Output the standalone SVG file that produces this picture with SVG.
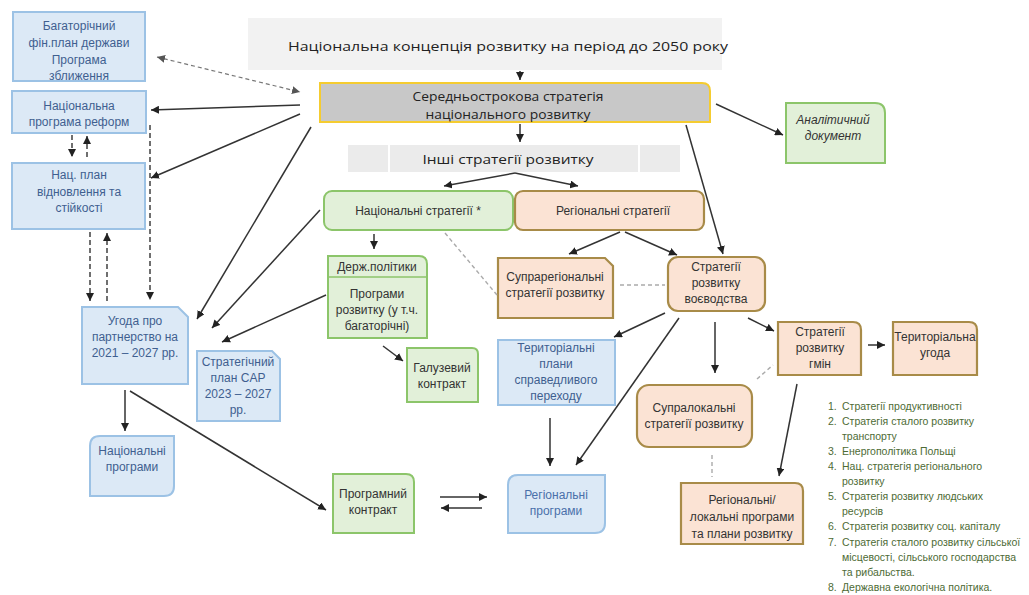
<svg xmlns="http://www.w3.org/2000/svg" width="1029" height="595" viewBox="0 0 1029 595">
<defs>
<marker id="ah" markerUnits="userSpaceOnUse" markerWidth="8" markerHeight="8" refX="8" refY="4" orient="auto-start-reverse"><path d="M0,0 L8,4 L0,8 z" fill="#222"/></marker>
<marker id="ahg" markerUnits="userSpaceOnUse" markerWidth="8" markerHeight="8" refX="8" refY="4" orient="auto-start-reverse"><path d="M0,0 L8,4 L0,8 z" fill="#555"/></marker>
<style>
text{font-family:"Liberation Sans",Arial,sans-serif;font-size:12px;fill:#333;text-anchor:middle}
.os{font-family:"Open Sans","Noto Sans",sans-serif;fill:#222}
.bl{fill:#dce9f6;stroke:#9cc2e5;stroke-width:2}
.gr{fill:#e2f0d9;stroke:#8cc56a;stroke-width:2}
.pe{fill:#fbe3d4;stroke:#a88b48;stroke-width:2.2}
.bt{fill:#3f5f90}
.ln{stroke:#333;stroke-width:1.5;fill:none;marker-end:url(#ah)}
.dl{stroke:#333;stroke-width:1.4;fill:none;stroke-dasharray:5,3;marker-end:url(#ah)}
.gd{stroke:#aaa;stroke-width:1.4;fill:none;stroke-dasharray:4,3}
.li text{text-anchor:start;font-size:10.5px;fill:#4d6b35}
</style>
</defs>
<rect width="1029" height="595" fill="#fff"/>

<g id="concept"><rect x="248" y="18" width="474" height="52" fill="#f2f2f2"/><text class="os" x="508" y="51" font-size="17.5" textLength="440" lengthAdjust="spacingAndGlyphs">Національна концепція розвитку на період до 2050 року</text></g>

<g id="mid"><path d="M320 83 H702 Q710 83 710 91 V122 H320 Z" fill="#c8c8c8" stroke="#f5cc30" stroke-width="2"/><text class="os" x="508" y="101" font-size="15" textLength="191" lengthAdjust="spacingAndGlyphs">Середньострокова стратегія</text><text class="os" x="508" y="119" font-size="15" textLength="165" lengthAdjust="spacingAndGlyphs">національного розвитку</text></g>

<g id="other"><rect x="348" y="145" width="40" height="27" fill="#ebebeb"/><rect x="390" y="145" width="248" height="27" fill="#ebebeb"/><rect x="640" y="145" width="40" height="27" fill="#ebebeb"/><text class="os" x="508" y="164" font-size="17" textLength="171" lengthAdjust="spacingAndGlyphs">Інші стратегії розвитку</text></g>

<g id="analytic"><path d="M786 103 H875 Q885 103 885 113 V163 H786 Z" class="gr"/><text x="833" y="124" font-style="italic">Аналітичний</text><text x="833" y="140" font-style="italic">документ</text></g>

<g id="natstr"><rect x="324" y="191" width="189" height="39" rx="8" class="gr"/><text x="418" y="215">Національні стратегії *</text></g>
<g id="regstr"><rect x="515" y="191" width="189" height="39" rx="8" class="pe"/><text x="613" y="215">Регіональні стратегії</text></g>

<g id="derzh"><path d="M328 256 H419 Q427 256 427 264 V338 H328 Z" class="gr"/><line x1="328" y1="277" x2="427" y2="277" stroke="#8cc56a" stroke-width="1.5"/><text x="377" y="271">Держ.політики</text><text x="377" y="298">Програми</text><text x="377" y="314">розвитку (у т.ч.</text><text x="377" y="330">багаторічні)</text></g>

<g id="galuz"><path d="M407 348 H472 Q478 348 478 354 V402 H407 Z" class="gr"/><text x="442" y="372">Галузевий</text><text x="442" y="388">контракт</text></g>

<g id="supra"><path d="M498 258 H605 L613 266 V318 H498 Z" class="pe"/><text x="555" y="281">Супрарегіональні</text><text x="555" y="297">стратегії розвитку</text></g>

<g id="voiv"><rect x="668" y="257" width="97" height="54" rx="10" class="pe"/><text x="716" y="271">Стратегії</text><text x="716" y="287">розвитку</text><text x="716" y="303">воєводства</text></g>

<g id="gmin"><path d="M778 322 H853 Q861 322 861 330 V375 H778 Z" class="pe"/><text x="820" y="336">Стратегії</text><text x="820" y="352">розвитку</text><text x="820" y="368">гмін</text></g>

<g id="terugoda"><path d="M893 322 H969 Q977 322 977 330 V375 H893 Z" class="pe"/><text x="935" y="341">Територіальна</text><text x="935" y="357">угода</text></g>

<g id="terplan"><rect x="498" y="340" width="117" height="65" class="bl"/><text class="bt" x="556" y="352">Територіальні</text><text class="bt" x="556" y="368">плани</text><text class="bt" x="556" y="384">справедливого</text><text class="bt" x="556" y="400">переходу</text></g>

<g id="supraloc"><rect x="637" y="385" width="115" height="62" rx="12" class="pe"/><text x="694" y="412">Супралокальні</text><text x="694" y="428">стратегії розвитку</text></g>

<g id="regloc"><path d="M681 483 H795 Q803 483 803 491 V544 H681 Z" class="pe"/><text x="742" y="504">Регіональні/</text><text x="742" y="521">локальні програми</text><text x="742" y="538">та плани розвитку</text></g>

<g id="regprog"><path d="M518 475 H605 V523 Q605 533 595 533 H508 V485 Q508 475 518 475 Z" class="bl"/><text class="bt" x="556" y="499" style="fill:#4a70aa">Регіональні</text><text class="bt" x="556" y="515" style="fill:#4a70aa">програми</text></g>

<g id="progcontr"><path d="M333 474 H406 Q414 474 414 482 V533 H333 Z" class="gr"/><text x="373" y="498">Програмний</text><text x="373" y="514">контракт</text></g>

<g id="bagat"><rect x="13" y="12" width="132" height="69" class="bl"/><text class="bt" x="79" y="30">Багаторічний</text><text class="bt" x="79" y="47">фін.план держави</text><text class="bt" x="79" y="64">Програма</text><text class="bt" x="79" y="80">зближення</text></g>

<g id="reform"><rect x="12" y="91" width="134" height="42" class="bl"/><text class="bt" x="79" y="110">Національна</text><text class="bt" x="79" y="126">програма реформ</text></g>

<g id="vidnov"><rect x="12" y="163" width="133" height="66" class="bl"/><text class="bt" x="79" y="179">Нац. план</text><text class="bt" x="79" y="196">відновлення та</text><text class="bt" x="79" y="212">стійкості</text></g>

<g id="ugoda"><path d="M82 307 H178 L188 317 V384 H82 Z" class="bl"/><text class="bt" x="135" y="325">Угода про</text><text class="bt" x="135" y="341">партнерство на</text><text class="bt" x="135" y="357">2021 – 2027 рр.</text></g>

<g id="cap"><path d="M197 351 H272 L280 359 V421 H197 Z" class="bl"/><text class="bt" x="238" y="366">Стратегічний</text><text class="bt" x="238" y="382">план CAP</text><text class="bt" x="238" y="398">2023 – 2027</text><text class="bt" x="238" y="414">рр.</text></g>

<g id="natprog"><path d="M100 436 H174 V486 Q174 496 164 496 H90 V446 Q90 436 100 436 Z" class="bl"/><text class="bt" x="132" y="455">Національні</text><text class="bt" x="132" y="471">програми</text></g>

<g id="connectors">
<line class="ln" x1="520" y1="71" x2="520" y2="80"/>
<line class="ln" x1="520" y1="124" x2="520" y2="142"/>
<line class="ln" x1="515" y1="173" x2="444" y2="186"/>
<line class="ln" x1="515" y1="173" x2="578" y2="186"/>
<line class="ln" x1="716" y1="104" x2="783" y2="135"/>
<line class="ln" x1="686" y1="125" x2="723" y2="254"/>
<line class="ln" x1="300" y1="105" x2="151" y2="110"/>
<line class="ln" x1="300" y1="114" x2="151" y2="178"/>
<line x1="157" y1="57" x2="300" y2="92" stroke="#777" stroke-width="1.2" stroke-dasharray="4,3" marker-start="url(#ahg)" marker-end="url(#ahg)"/>
<line class="ln" x1="311" y1="127" x2="197" y2="319"/>
<line class="ln" x1="320" y1="210" x2="212" y2="328"/>
<line class="ln" x1="326" y1="295" x2="222" y2="342"/>
<line class="ln" x1="374" y1="234" x2="374" y2="249"/>
<line class="ln" x1="383" y1="346" x2="403" y2="361"/>
<line class="ln" x1="620" y1="232" x2="569" y2="254"/>
<line class="ln" x1="625" y1="232" x2="677" y2="255"/>
<line class="ln" x1="665" y1="313" x2="614" y2="337"/>
<line class="ln" x1="679" y1="318" x2="576" y2="465"/>
<line class="ln" x1="715" y1="322" x2="715" y2="373"/>
<line class="ln" x1="748" y1="318" x2="774" y2="331"/>
<line class="ln" x1="868" y1="345" x2="885" y2="345"/>
<line class="ln" x1="797" y1="384" x2="779" y2="476"/>
<line class="ln" x1="550" y1="418" x2="550" y2="466"/>
<line class="ln" x1="125" y1="390" x2="125" y2="431"/>
<line class="ln" x1="130" y1="391" x2="326" y2="510"/>
<line class="ln" x1="440" y1="497" x2="487" y2="497"/>
<line class="ln" x1="482" y1="508" x2="441" y2="508"/>
<line class="dl" x1="72" y1="135" x2="72" y2="157"/>
<line class="dl" x1="87" y1="157" x2="87" y2="136"/>
<line class="dl" x1="90" y1="232" x2="90" y2="301"/>
<line class="dl" x1="107" y1="301" x2="107" y2="233"/>
<line class="dl" x1="150" y1="125" x2="150" y2="300"/>
<line class="gd" x1="445" y1="233" x2="497" y2="295"/>
<line class="gd" x1="620" y1="285" x2="665" y2="285"/>
<line class="gd" x1="757" y1="379" x2="773" y2="365"/>
<line class="gd" x1="712" y1="455" x2="712" y2="477"/>
</g>

<g id="list" class="li">
<text x="828" y="410">1.</text><text x="842" y="410">Стратегії продуктивності</text>
<text x="828" y="425">2.</text><text x="842" y="425">Стратегія сталого розвитку</text>
<text x="842" y="440">транспорту</text>
<text x="828" y="455">3.</text><text x="842" y="455">Енергополітика Польщі</text>
<text x="828" y="470">4.</text><text x="842" y="470">Нац. стратегія регіонального</text>
<text x="842" y="485">розвитку</text>
<text x="828" y="500">5.</text><text x="842" y="500">Стратегія розвитку людських</text>
<text x="842" y="515">ресурсів</text>
<text x="828" y="530">6.</text><text x="842" y="530">Стратегія розвитку соц. капіталу</text>
<text x="828" y="546">7.</text><text x="842" y="546">Стратегія сталого розвитку сільської</text>
<text x="842" y="561">місцевості, сільського господарства</text>
<text x="842" y="576">та рибальства.</text>
<text x="828" y="591">8.</text><text x="842" y="591">Державна екологічна політика.</text>
</g>
</svg>
